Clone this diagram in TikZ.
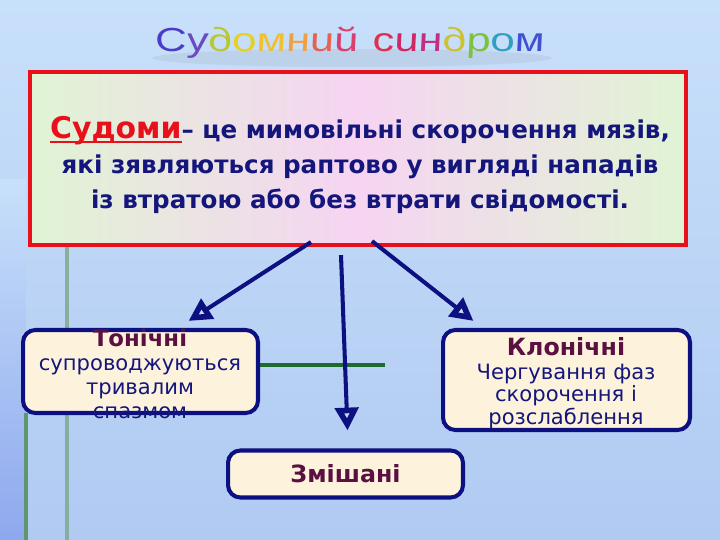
\documentclass[tikz,border=0pt]{standalone}
\usepackage{fontspec}
\usetikzlibrary{arrows.meta, calc}
\setmainfont{DejaVu Sans}
\newfontfamily\titlefont[FakeStretch=1.3, LetterSpace=7]{Liberation Sans}
\definecolor{bgtop}{HTML}{C8E0FA}
\definecolor{bgbottom}{HTML}{B0CAF2}
\definecolor{stripe}{HTML}{8EA8EE}
\definecolor{navy}{HTML}{14167C}
\definecolor{boxline}{HTML}{0C1080}
\definecolor{cream}{HTML}{FDF3DC}
\definecolor{maroon}{HTML}{5A1040}
\definecolor{redline}{HTML}{E8101A}
\definecolor{tipfill}{HTML}{C8DCF8}
\definecolor{palegreen}{HTML}{7AA888}
\definecolor{darkgreen}{HTML}{1E6B2E}
\definecolor{sidegreen}{HTML}{E0F4D4}
\definecolor{midpink}{HTML}{F6D4F2}
\newcommand{\rb}[2]{\textcolor[HTML]{#1}{#2}}
\newcommand{\redunder}[1]{\setbox0\hbox{#1}\rlap{\rule[-2.6pt]{\wd0}{1.3pt}}\box0}
\begin{document}
\begin{tikzpicture}[x=0.02cm, y=-0.02cm,
        mainbox/.style={draw=redline, line width=2.4pt, minimum width=13.12cm, minimum height=3.46cm,
            left color=sidegreen, right color=sidegreen, middle color=midpink},
        kind/.style={draw=boxline, line width=2.3pt, rounded corners=7pt, fill=cream},
        kindtext/.style={align=center, text=navy, font=\fontsize{12}{13.5}\selectfont},
        arr/.style={draw=boxline, line width=2.3pt, -{Triangle[length=13pt, width=13pt, line width=3.2pt, fill=tipfill]}},
        deco/.style={line width=1.8pt}]
    \shade [top color=bgtop, bottom color=bgbottom] (0, 0) rectangle (720, 540);
    \shade [top color=bgtop, bottom color=stripe] (0, 180) rectangle (26, 540);
    \useasboundingbox (0, 0) rectangle (720, 540);

    \fill [gray, opacity=0.12] (352, 58) ellipse (200 and 9);
    \node [font=\titlefont\itshape\fontsize{19}{19}\selectfont, xslant=-0.2, transform shape] (title) at (350, 43)
        {\rb{4A3CC8}{С}\rb{6A4CC0}{у}\rb{B8C830}{д}\rb{E8D020}{о}\rb{F0C030}{м}\rb{F0A040}{н}\rb{E86050}{и}\rb{D84070}{й}
         \rb{E03050}{с}\rb{D02860}{и}\rb{C03080}{н}\rb{D0C030}{д}\rb{80C040}{р}\rb{30A0C0}{о}\rb{4050D0}{м}};

    \draw [deco, palegreen, opacity=0.8] (67, 245) -- (67, 540);
    \draw [deco, palegreen!70!darkgreen] (26, 413) -- (26, 540);
    \draw [deco, darkgreen] (258, 365) -- (385, 365);

    \node [mainbox] (main) at (358, 158.5) {};
    \node [align=center, text=navy, font=\bfseries\fontsize{14}{20}\selectfont] (def) at (360, 165)
        {\textcolor{redline}{\fontsize{17}{20}\selectfont\redunder{Судоми}}– це мимовільні скорочення мязів,\\
         які зявляються раптово у вигляді нападів\\
         із втратою або без втрати свідомості.};

    \node [kind, minimum width=4.7cm, minimum height=1.66cm] (ton) at (140.5, 371.5) {};
    \node [kindtext] (tontext) at (140, 374)
        {\textcolor{maroon}{\bfseries\fontsize{13}{13.5}\selectfont Тонічні}\\супроводжуються\\тривалим\\спазмом};
    \node [kind, minimum width=4.94cm, minimum height=2cm] (klon) at (566.5, 380) {};
    \node [kindtext, font=\fontsize{12}{11.5}\selectfont] (klontext) at (566, 383)
        {\textcolor{maroon}{\bfseries\fontsize{13.5}{13}\selectfont Клонічні}\\[2pt]Чергування фаз\\скорочення і\\розслаблення};
    \node [kind, minimum width=4.7cm, minimum height=0.94cm] (zmi) at (345.5, 474)
        {\textcolor{maroon}{\bfseries\fontsize{13.5}{13}\selectfont Змішані}};

    \draw [arr] ($(main.south)+(-47, -5)$) -- ($(ton.north)+(48, -7)$);
    \draw [arr] ($(main.south)+(-17, 8)$) -- ($(zmi.north)+(2, -18)$);
    \draw [arr] ($(main.south)+(14, -6)$) -- ($(klon.north)+(-93, -7)$);
\end{tikzpicture}
\end{document}
